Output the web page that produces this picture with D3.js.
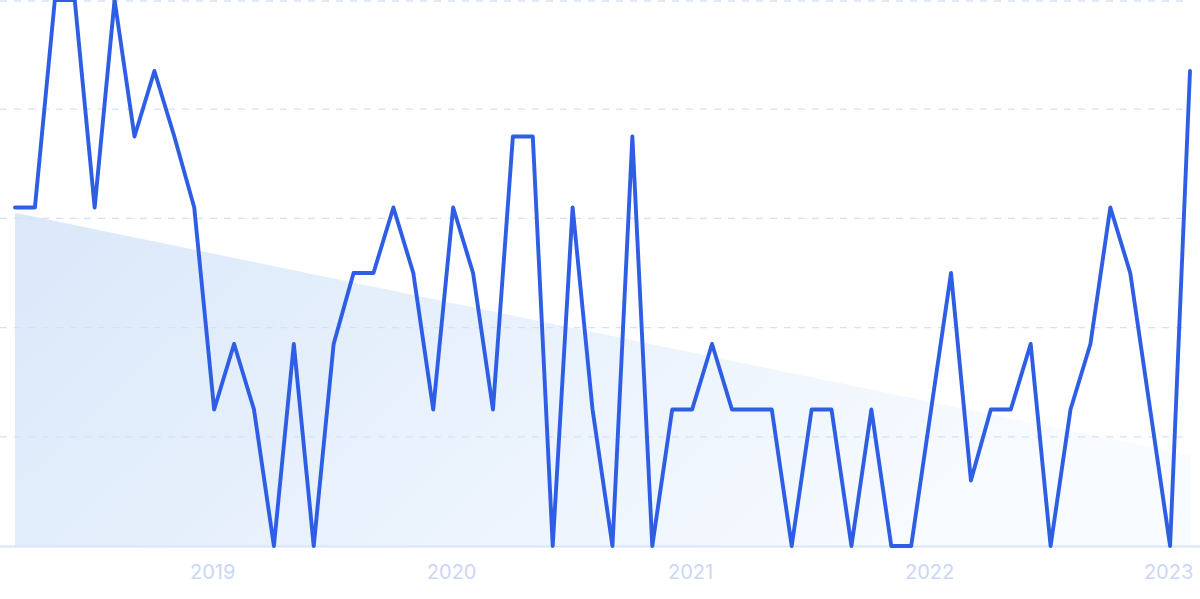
<!DOCTYPE html>
<html>
<head>
<meta charset="utf-8">
<script src="https://cdn.jsdelivr.net/npm/d3@7"></script>
<style>
  html, body { margin: 0; padding: 0; background: #ffffff; }
  svg { display: block; }
</style>
</head>
<body>
<div id="chart"></div>
<script>
// Monthly points, Mar 2018 .. Feb 2023
const months = [
  "2018-03","2018-04","2018-05","2018-06","2018-07","2018-08","2018-09","2018-10","2018-11","2018-12",
  "2019-01","2019-02","2019-03","2019-04","2019-05","2019-06","2019-07","2019-08","2019-09","2019-10","2019-11","2019-12",
  "2020-01","2020-02","2020-03","2020-04","2020-05","2020-06","2020-07","2020-08","2020-09","2020-10","2020-11","2020-12",
  "2021-01","2021-02","2021-03","2021-04","2021-05","2021-06","2021-07","2021-08","2021-09","2021-10","2021-11","2021-12",
  "2022-01","2022-02","2022-03","2022-04","2022-05","2022-06","2022-07","2022-08","2022-09","2022-10","2022-11","2022-12",
  "2023-01","2023-02"
];
const values = [
  62, 62, 100, 100, 62, 100, 75, 87, 75, 62,
  25, 37, 25, 0, 37, 0, 37, 50, 50, 62, 50, 25,
  62, 50, 25, 75, 75, 0, 62, 25, 0, 75, 0, 25,
  25, 37, 25, 25, 25, 0, 25, 25, 0, 25, 0, 0,
  25, 50, 12, 25, 25, 37, 0, 25, 37, 62, 50, 25,
  0, 87
];
const yearTickMonths = ["2019-01","2020-01","2021-01","2022-01","2023-01"];
const yearTickLabels = ["2019","2020","2021","2022","2023"];
const yGridValues = [0, 20, 40, 60, 80, 100];

const W = 1200, H = 599;
const svg = d3.select("#chart").append("svg").attr("width", W).attr("height", H);

const x = d3.scaleLinear().domain([0, months.length - 1]).range([15, 1190]);
const y = d3.scaleLinear().domain([0, 100]).range([546, 0]);

const defs = svg.append("defs");
const grad = defs.append("linearGradient").attr("id", "trendFill")
  .attr("x1", "0%").attr("y1", "0%").attr("x2", "100%").attr("y2", "30%");
grad.append("stop").attr("offset", "0%").attr("stop-color", "#dae8fa");
grad.append("stop").attr("offset", "100%").attr("stop-color", "#f8fbff");

// linear regression trend area
const idx = d3.range(values.length);
const mx = d3.mean(idx), my = d3.mean(values);
const slope = d3.sum(idx, i => (i - mx) * (values[i] - my)) / d3.sum(idx, i => (i - mx) * (i - mx));
const intercept = my - slope * mx;
const trend = idx.map(i => intercept + slope * i);

svg.append("path")
  .datum(idx)
  .attr("fill", "url(#trendFill)")
  .attr("d", d3.area().x(i => x(i)).y0(y(0)).y1(i => y(trend[i])));

// gridlines
svg.append("g").selectAll("line")
  .data(yGridValues.filter(v => v > 0))
  .join("line")
  .attr("x1", 0).attr("x2", 1190)
  .attr("y1", v => Math.max(1, y(v))).attr("y2", v => Math.max(1, y(v)))
  .attr("stroke", "#d3e2fb")
  .attr("stroke-width", 1.3)
  .attr("stroke-dasharray", "7,7");

// baseline
svg.append("line")
  .attr("x1", 0).attr("x2", 1200)
  .attr("y1", y(0) + 0.5).attr("y2", y(0) + 0.5)
  .attr("stroke", "#d8e5fb").attr("stroke-width", 2);

// line
svg.append("path")
  .datum(values)
  .attr("fill", "none")
  .attr("stroke", "#2e5ee4")
  .attr("stroke-width", 3.9)
  .attr("stroke-linejoin", "round")
  .attr("stroke-linecap", "round")
  .attr("d", d3.line().x((d, i) => x(i)).y(d => y(d)));

// x axis labels
const xAxis = d3.axisBottom(x)
  .tickValues(yearTickMonths.map(m => months.indexOf(m)))
  .tickFormat((d, i) => yearTickLabels[i])
  .tickSize(0).tickPadding(0);
const gx = svg.append("g").attr("transform", "translate(-2,564)").call(xAxis);
gx.select(".domain").remove();
gx.selectAll("text")
  .attr("dy", "0")
  .attr("y", 15)
  .attr("fill", "#cad7f6")
  .style("font-family", "Inter, 'Noto Sans', sans-serif")
  .style("font-size", "20px");
</script>
</body>
</html>
